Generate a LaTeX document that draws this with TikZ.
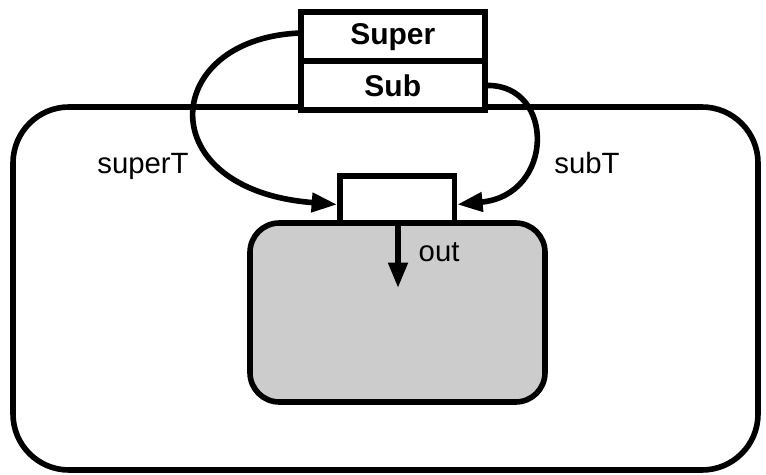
\documentclass[tikz,border=0pt]{standalone}
\usepackage{fontspec}
\setmainfont{Liberation Sans}
\usetikzlibrary{arrows.meta}
\begin{document}
\begin{tikzpicture}[x=0.75pt,y=-0.75pt,
  thickline/.style={line width=4.2pt},
  port/.style={draw, line width=4.2pt, fill=white},
  flow/.style={line width=4.2pt, -{Triangle[length=19pt,width=14pt]}},
  lbl/.style={font=\fontsize{22}{26}\selectfont},
  blbl/.style={font=\fontsize{22.5}{26}\selectfont\bfseries}]
\useasboundingbox (0,0) rectangle (766,474);
% outer container
\draw[thickline, rounded corners=42pt] (13,107) rectangle (758,470);
% inner shaded block
\draw[thickline, fill=black!20, rounded corners=22pt] (250,223) rectangle (545,402);
% stacked super / sub boxes
\node[port, minimum width=138pt, minimum height=38pt, inner sep=0pt, anchor=north west, blbl] (super) at (298,9) {Super};
\node[port, minimum width=138pt, minimum height=37pt, inner sep=0pt, anchor=north west, blbl] (sub) at (298,58) {Sub};
% small port box
\node[port, minimum width=86pt, minimum height=35pt, inner sep=0pt, anchor=north west] (box) at (337,173) {};
% curved connectors
\coordinate (sl) at ([yshift=3pt]super.west);
\draw[flow] (sl) .. controls (160,40) and (150,190) .. ([yshift=-4pt]box.west);
\draw[flow] (sub.east) .. controls (555,85) and (555,195) .. ([yshift=-4pt]box.east);
% output arrow
\coordinate (outend) at (398,288);
\draw[flow] (box.south -| outend) -- (outend);
\node[lbl, anchor=west] (outl) at (414,252) {out};
\node[lbl] (superT) at (143,166) {superT};
\node[lbl] (subT) at (587,163) {subT};
\end{tikzpicture}
\end{document}
